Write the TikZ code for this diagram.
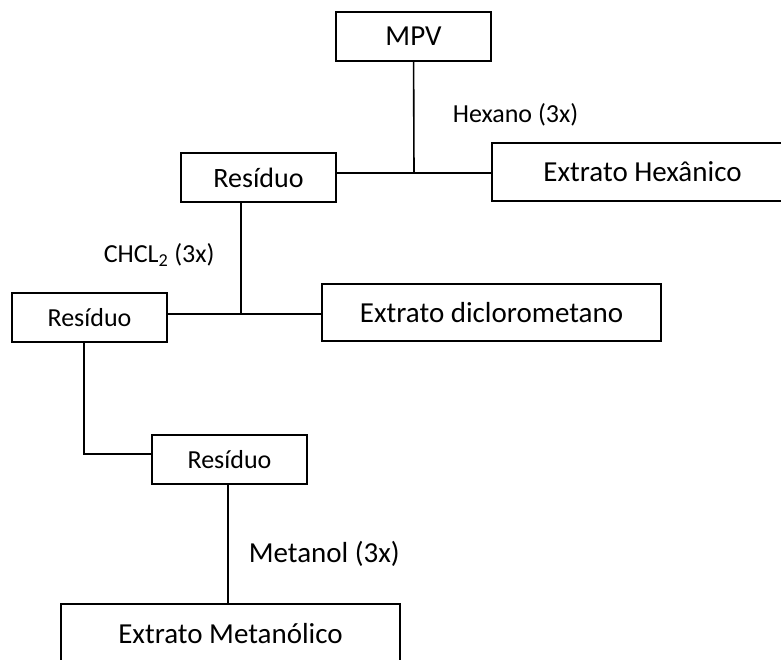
\documentclass[tikz,border=0pt]{standalone}
\usepackage{fontspec}
\setmainfont{Carlito}
\tikzset{
  caixa/.style={draw, line width=1.6pt, inner sep=0pt, align=center},
  rotulo/.style={inner sep=0pt, anchor=west},
}
\begin{document}
\begin{tikzpicture}[x=1pt, y=-1pt, line width=1.6pt]
  \useasboundingbox (0,0) rectangle (781,659);
  \begin{scope}
    \clip (0,0) rectangle (781,659);
    \draw
      (413.5,36.5) node[caixa, minimum width=155pt, minimum height=49pt, font=\fontsize{29}{34}\selectfont] (mpv){MPV}
      (258.5,177.5) node[caixa, minimum width=155pt, minimum height=49pt, font=\fontsize{28}{33}\selectfont] (res1){Resíduo}
      (642.5,172) node[caixa, minimum width=301pt, minimum height=58pt, font=\fontsize{29}{34}\selectfont] (hex){Extrato Hexânico}
      (89.5,317.5) node[caixa, minimum width=155pt, minimum height=49pt, font=\fontsize{26}{31}\selectfont] (res2){Resíduo}
      (491.5,312.5) node[caixa, minimum width=339pt, minimum height=57pt, font=\fontsize{29}{34}\selectfont] (dcm){Extrato diclorometano}
      (229.5,459.5) node[caixa, minimum width=155pt, minimum height=49pt, font=\fontsize{26}{31}\selectfont] (res3){Resíduo}
      (230.5,634) node[caixa, minimum width=339pt, minimum height=60pt, font=\fontsize{29}{34}\selectfont] (met){Extrato Metanólico};
    \node[rotulo, font=\fontsize{26}{31}\selectfont] (hexano) at (452,115) {Hexano (3x)};
    \node[rotulo, font=\fontsize{26}{31}\selectfont] (chcl) at (103,255) {CHCL\textsubscript{2} (3x)};
    \node[rotulo, font=\fontsize{29}{34}\selectfont] (metanol) at (248,554) {Metanol (3x)};
    \coordinate (j1) at (414,173);
    \coordinate (j2) at (241,314);
    \coordinate (j3) at (84,454);
    \coordinate (j4) at (228,484);
    \begin{scope}[-]
      \draw (mpv) -- (j1);
      \draw (j1 -| res1.east) -- (j1 -| hex.west);
      \draw (j2 |- res1.south) -- (j2);
      \draw (j2 -| res2.east) -- (j2 -| dcm.west);
      \draw (j3 |- res2.south) -- (j3) -- (j3 -| res3.west);
      \draw (j4 |- res3.south) -- (j4 |- met.north);
    \end{scope}
  \end{scope}
\end{tikzpicture}
\end{document}
